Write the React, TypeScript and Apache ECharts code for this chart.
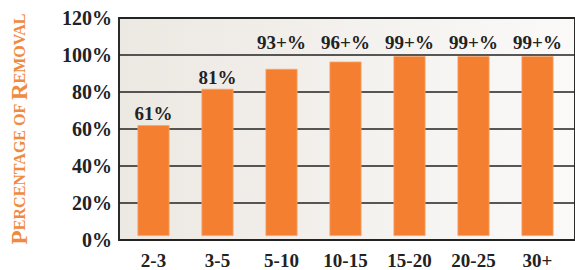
import React, { useEffect, useRef } from "react";
import * as echarts from "echarts";

const categories = ["2-3", "3-5", "5-10", "10-15", "15-20", "20-25", "30+"];
const removalValues = [61, 81, 92, 96, 99, 99, 99];
const barLabels = ["61%", "81%", "93+%", "96+%", "99+%", "99+%", "99+%"];
const yTicks = { min: 0, max: 120, interval: 20 };
const labelCapValue = 100;

const SERIF = "'Liberation Serif', 'Times New Roman', serif";

export default function App() {
  const ref = useRef<HTMLDivElement>(null);

  useEffect(() => {
    if (!ref.current) return;
    const chart = echarts.init(ref.current, null, { renderer: "svg" });
    chart.setOption({
      animation: false,
      backgroundColor: "#ffffff",
      grid: [
        {
          left: 106,
          top: 18,
          right: -20,
          bottom: 30,
          show: true,
          borderColor: "#2b2b2b",
          borderWidth: 2,
          backgroundColor: new echarts.graphic.LinearGradient(0, 0, 1, 0, [
            { offset: 0, color: "#ECE8E2" },
            { offset: 1, color: "#FBFAF9" },
          ]),
        },
        { left: 121.5, top: 18, width: 448, bottom: 30 },
      ],
      xAxis: [
        { gridIndex: 0, type: "value", show: false, min: 0, max: 1 },
        {
          gridIndex: 1,
          type: "category",
          data: categories,
          axisLine: { show: false },
          axisTick: { show: false },
          axisLabel: {
            margin: 15,
            fontFamily: SERIF,
            fontWeight: "bold",
            fontSize: 19,
            color: "#222",
          },
        },
      ],
      yAxis: [
        {
          gridIndex: 0,
          type: "value",
          min: yTicks.min,
          max: yTicks.max,
          interval: yTicks.interval,
          axisLine: { show: false },
          axisTick: { show: false },
          splitLine: { lineStyle: { color: "#222", width: 1.5 } },
          axisLabel: {
            formatter: "{value}%",
            margin: 7,
            fontFamily: SERIF,
            fontWeight: "bold",
            fontSize: 20,
            color: "#222",
          },
          name: "{big|P}{small|ERCENTAGE OF }{big|R}{small|EMOVAL}",
          nameLocation: "middle",
          nameRotate: 90,
          nameGap: 88,
          nameTextStyle: {
            rich: {
              big: {
                fontFamily: SERIF,
                fontWeight: "bold",
                fontSize: 23,
                color: "#F08A40",
              },
              small: {
                fontFamily: SERIF,
                fontWeight: "bold",
                fontSize: 16,
                color: "#F08A40",
              },
            },
          },
        },
        {
          gridIndex: 1,
          type: "value",
          min: yTicks.min,
          max: yTicks.max,
          interval: yTicks.interval,
          show: false,
          splitLine: { show: false },
        },
      ],
      series: [
        {
          type: "bar",
          xAxisIndex: 1,
          yAxisIndex: 1,
          data: removalValues,
          barWidth: 32,
          itemStyle: {
            color: "#F47F30",
            borderColor: "#F6A46C",
            borderWidth: 0.8,
          },
          label: {
            show: true,
            position: "top",
            distance: 2,
            formatter: (p: any) => barLabels[p.dataIndex],
            fontFamily: SERIF,
            fontWeight: "bold",
            fontSize: 19,
            color: "#222",
          },
          labelLayout: (p: any) => {
            const v = removalValues[p.dataIndex];
            if (v > 90) {
              const yPix = chart.convertToPixel({ yAxisIndex: 1 }, labelCapValue) as number;
              return {
                x: p.rect.x + p.rect.width / 2,
                y: yPix - 2,
                align: "center",
                verticalAlign: "bottom",
              };
            }
            return {};
          },
        },
      ],
    });
    return () => chart.dispose();
  }, []);

  return (
    <div
      ref={ref}
      style={{ position: "fixed", left: 0, top: 0, width: 575, height: 270 }}
    />
  );
}
